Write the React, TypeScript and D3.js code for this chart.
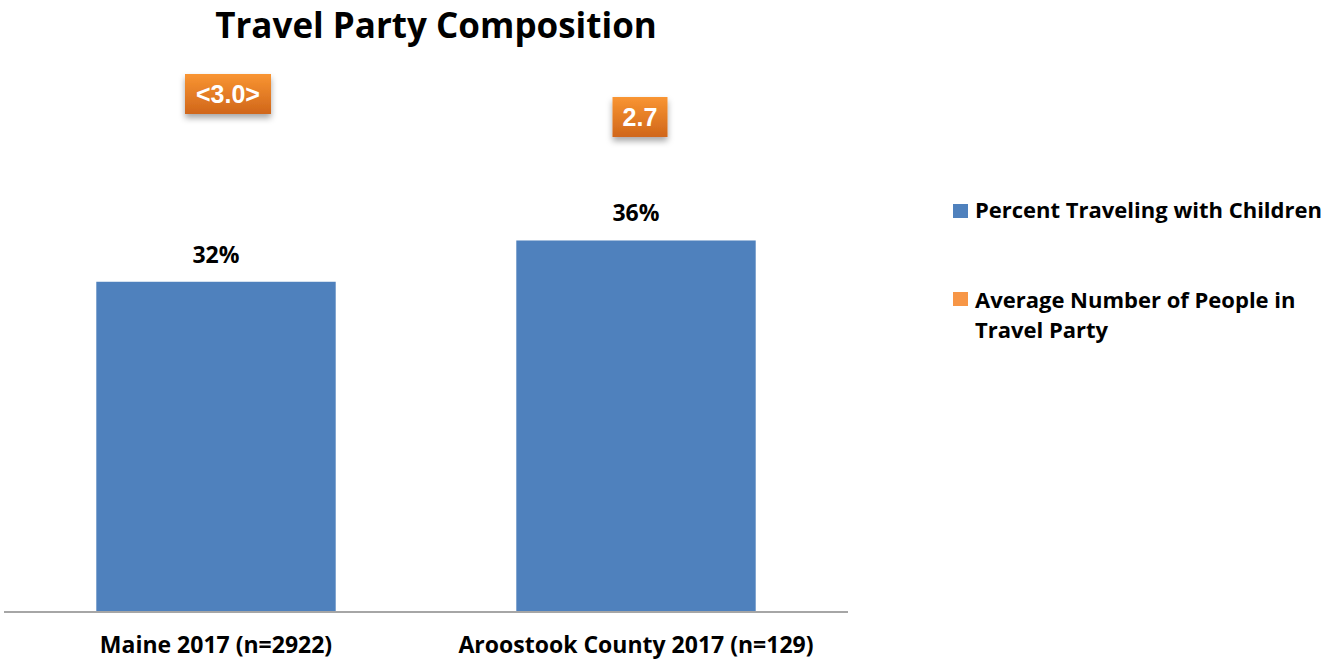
import React from "react";
import * as d3 from "d3";

const categories = ["Maine 2017 (n=2922)", "Aroostook County 2017 (n=129)"];
const pctChildren = [32, 36];
const avgParty = [3.0, 2.7];
const avgLabels = ["<3.0>", "2.7"];
const seriesNames = ["Percent Traveling with Children", "Average Number of People in Travel Party"];

const W = 1323, H = 661;
const FONT = "'Open Sans', Lato, sans-serif";

export default function App() {
  const x = d3.scaleBand().domain(categories).range([6, 846]).paddingInner(0.43).paddingOuter(0.215);
  const y = d3.scaleLinear().domain([0, 50]).range([612, 96]);
  const y2 = d3.scaleLinear().domain([2, 4]).range([170.7, 17.3]);
  const labelOffsets = [12, 4];
  return (
    <svg width={W} height={H} style={{ position: "absolute", left: 0, top: 0, fontFamily: FONT }}>
      <defs>
        <linearGradient id="og" x1="0" y1="0" x2="0" y2="1">
          <stop offset="0" stopColor="#f99532" />
          <stop offset="1" stopColor="#d0661a" />
        </linearGradient>
        <filter id="sh" x="-20%" y="-20%" width="140%" height="160%">
          <feDropShadow dx="0" dy="4" stdDeviation="3" floodColor="#000" floodOpacity="0.35" />
        </filter>
      </defs>
      <rect width={W} height={H} fill="#fff" />
      <text x={436} y={38} textAnchor="middle" fontSize={35} fontWeight="bold" fill="#000">Travel Party Composition</text>
      {categories.map((c, i) => (
        <g key={c}>
          <rect x={x(c)} y={y(pctChildren[i])} width={x.bandwidth()} height={y(0) - y(pctChildren[i])} fill="#4f81bd" />
          <text x={x(c)! + x.bandwidth() / 2} y={y(pctChildren[i]) - 19} textAnchor="middle" fontSize={23} fontWeight="bold">{pctChildren[i]}%</text>
          <text x={x(c)! + x.bandwidth() / 2} y={653} textAnchor="middle" fontSize={23} fontWeight="bold">{c}</text>
        </g>
      ))}
      <line x1={4} x2={848} y1={612} y2={612} stroke="#a6a6a6" strokeWidth={2} />
      {categories.map((c, i) => {
        const cx = x(c)! + x.bandwidth() / 2 + labelOffsets[i];
        const cy = y2(avgParty[i]);
        const w = avgLabels[i].length > 3 ? 86 : 55;
        return (
          <g key={"a" + c}>
            <rect x={cx - w / 2} y={cy - 20} width={w} height={40} fill="url(#og)" filter="url(#sh)" />
            <text x={cx} y={cy + 9} textAnchor="middle" fontSize={25} fontWeight="bold" fill="#fff" fontFamily="'Liberation Sans', Arial, sans-serif">{avgLabels[i]}</text>
          </g>
        );
      })}
      {seriesNames.map((s, i) => {
        const ly = i === 0 ? 204 : 292;
        return (
          <g key={s}>
            <rect x={953} y={ly} width={15} height={14} fill={i === 0 ? "#4f81bd" : "#f79646"} />
            {i === 0 ? (
              <text x={975} y={218} fontSize={22} fontWeight="bold">{s}</text>
            ) : (
              <text x={975} y={308} fontSize={22} fontWeight="bold">
                <tspan x={975}>Average Number of People in</tspan>
                <tspan x={975} dy={30}>Travel Party</tspan>
              </text>
            )}
          </g>
        );
      })}
    </svg>
  );
}
